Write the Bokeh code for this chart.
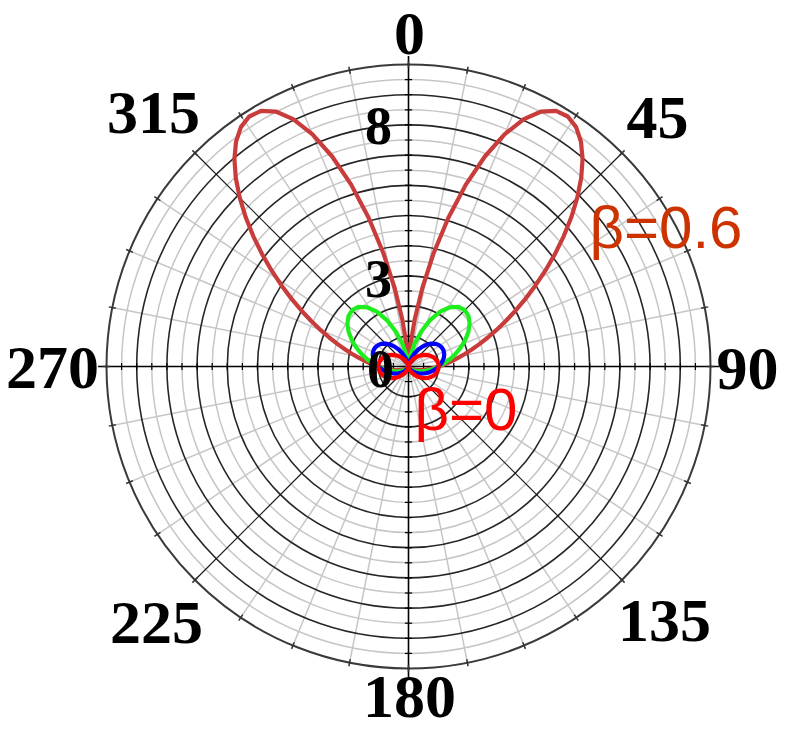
import numpy as np
from bokeh.plotting import figure
from bokeh.models import Range1d
from bokeh.core.properties import value
from bokeh.embed import file_html
from bokeh.resources import INLINE

# ---------------- data ----------------
# polar angle in degrees (0 = up, clockwise), pattern is mirror-symmetric about 0
theta_b06 = [0, 2.5, 5, 7.5, 10, 12.5, 15, 17.5, 20, 22.5, 25, 27.5, 30, 32.5, 35,
             37.5, 40, 42.5, 45, 47.5, 50, 52.5, 55, 57.5, 60, 62.5, 65, 67.5, 70,
             72.5, 75, 77.5, 80, 82.5, 85, 87.5, 90, 95, 100, 105, 110, 115, 120,
             125, 130, 135, 140, 145, 150, 155, 160, 165, 170, 175, 180]
r_b06 = [0, 0.184, 0.721, 1.561, 2.631, 3.841, 5.099, 6.315, 7.409, 8.329, 9.038,
         9.518, 9.773, 9.816, 9.676, 9.382, 8.967, 8.465, 7.904, 7.311, 6.707,
         6.109, 5.530, 4.979, 4.462, 3.984, 3.545, 3.145, 2.784, 2.460, 2.169,
         1.911, 1.681, 1.478, 1.298, 1.140, 1.0, 0.769, 0.591, 0.453, 0.347,
         0.265, 0.202, 0.153, 0.115, 0.085, 0.062, 0.045, 0.031, 0.020, 0.0125,
         0.0068, 0.0030, 0.0007, 0]

theta_deg = [0, 5, 10, 15, 20, 25, 30, 35, 40, 45, 50, 55, 60, 65, 70, 75, 80, 85,
             90, 95, 100, 105, 110, 115, 120, 125, 130, 135, 140, 145, 150, 155,
             160, 165, 170, 175, 180]
r_b04 = [0, 0.097, 0.369, 0.770, 1.235, 1.697, 2.096, 2.395, 2.574, 2.636, 2.594,
         2.470, 2.289, 2.073, 1.843, 1.611, 1.390, 1.185, 1.0, 0.836, 0.693, 0.570,
         0.465, 0.376, 0.301, 0.239, 0.187, 0.144, 0.109, 0.080, 0.056, 0.038,
         0.024, 0.013, 0.006, 0.001, 0]
r_b02 = [0, 0.023, 0.090, 0.196, 0.331, 0.486, 0.647, 0.805, 0.949, 1.072, 1.168,
         1.234, 1.270, 1.277, 1.258, 1.217, 1.157, 1.084, 1.0, 0.910, 0.818, 0.725,
         0.634, 0.547, 0.466, 0.390, 0.321, 0.258, 0.203, 0.154, 0.112, 0.078,
         0.049, 0.028, 0.012, 0.003, 0]
r_b00 = [0, 0.008, 0.030, 0.067, 0.117, 0.179, 0.250, 0.329, 0.413, 0.500, 0.587,
         0.671, 0.750, 0.821, 0.883, 0.933, 0.970, 0.992, 1.0, 0.992, 0.970, 0.933,
         0.883, 0.821, 0.750, 0.671, 0.587, 0.500, 0.413, 0.329, 0.250, 0.179,
         0.117, 0.067, 0.030, 0.008, 0]

angle_ticks = [0, 45, 90, 135, 180, 225, 270, 315]
angle_labels = ["0", "45", "90", "135", "180", "225", "270", "315"]
radial_ticks = [0, 3, 8]
radial_labels = ["0", "3", "8"]
r_max = 10
ring_major = [1, 2, 3, 4, 5, 6, 7, 8, 9]
ring_minor = [0.5, 1.5, 2.5, 3.5, 4.5, 5.5, 6.5, 7.5, 8.5, 9.5]
spoke_step = 11.25

series_labels = ["\u03b2=0.6", "\u03b2=0"]

# ---------------- layout / style ----------------
S = 30.2            # px per radial unit
W, H = 780, 730
CX, CY = 408, 366   # canvas px of the pole (page has an 8px margin)


def d(px, py):
    return (px - CX) / S, (CY - py) / S


p = figure(width=W, height=H,
           x_range=Range1d(-CX / S, (W - CX) / S),
           y_range=Range1d(-(H - CY) / S, CY / S),
           output_backend="svg", toolbar_location=None, min_border=0,
           x_axis_type=None, y_axis_type=None)
p.grid.visible = False
p.outline_line_color = None
p.background_fill_color = "white"
p.border_fill_color = "white"


def pol(r, a_deg):
    a = np.radians(np.asarray(a_deg, dtype=float))
    r = np.asarray(r, dtype=float)
    return r * np.sin(a), r * np.cos(a)


# minor rings and spokes (gray)
p.circle(x=[0] * len(ring_minor), y=[0] * len(ring_minor), radius=ring_minor,
         fill_color=None, line_color="#c6c6c6", line_width=1.5)
spokes = [k * spoke_step for k in range(int(360 / spoke_step)) if (k * spoke_step) % 45 != 0]
sx, sy = pol([r_max] * len(spokes), spokes)
p.segment(x0=[0] * len(spokes), y0=[0] * len(spokes), x1=sx, y1=sy,
          line_color="#c6c6c6", line_width=1.5)

# major rings (black)
p.circle(x=[0] * len(ring_major), y=[0] * len(ring_major), radius=ring_major,
         fill_color=None, line_color="#262626", line_width=1.6)
p.circle(x=[0], y=[0], radius=[r_max], fill_color=None, line_color="#3a3a3a", line_width=2)

# diagonal spokes
diag = [45, 135, 225, 315]
dx, dy = pol([r_max] * 4, diag)
p.segment(x0=[0] * 4, y0=[0] * 4, x1=dx, y1=dy, line_color="#1a1a1a", line_width=1.2)

# main axes
ext = r_max + 0.28
p.segment(x0=[0, -ext], y0=[-ext, 0], x1=[0, ext], y1=[ext, 0],
          line_color="black", line_width=1.6)

# outer-circle ticks
all_sp = [k * spoke_step for k in range(int(360 / spoke_step))]
t0x, t0y = pol([r_max - 0.12] * len(all_sp), all_sp)
t1x, t1y = pol([r_max + 0.12] * len(all_sp), all_sp)
p.segment(x0=t0x, y0=t0y, x1=t1x, y1=t1y, line_color="#333333", line_width=1.5)

# small ticks on the axes
tk = ring_minor + ring_major
h = 0.12
xs0, ys0, xs1, ys1 = [], [], [], []
for v in tk:
    for s in (1, -1):
        xs0 += [-h, s * v]; ys0 += [s * v, -h]
        xs1 += [h, s * v];  ys1 += [s * v, h]
p.segment(x0=xs0, y0=ys0, x1=xs1, y1=ys1, line_color="black", line_width=1.2)


# ---------------- curves ----------------
def full(theta, r):
    th = np.asarray(theta, dtype=float)
    rr = np.asarray(r, dtype=float)
    th_f = np.concatenate([-th[::-1], th[1:]])
    r_f = np.concatenate([rr[::-1], rr[1:]])
    return pol(r_f, th_f)


for th, rr, col in [(theta_b06, r_b06, "#c93c3c"),
                    (theta_deg, r_b04, "#1eee1e"),
                    (theta_deg, r_b02, "#0000ff"),
                    (theta_deg, r_b00, "#ff0000")]:
    x, y = full(th, rr)
    p.line(x, y, line_color=col, line_width=4.2, line_join="round", line_cap="round")

# ---------------- labels ----------------
ang_pos = [(409, 33), (657, 117), (747, 368), (664, 620),
           (409, 696), (156, 622), (52, 367), (153, 112)]
ax_, ay_ = zip(*[d(*q) for q in ang_pos])
p.text(x=list(ax_), y=list(ay_), text=angle_labels,
       text_font=value("Liberation Serif"), text_font_style="bold",
       text_font_size="62px", text_align="center", text_baseline="alphabetic",
       text_color="black")

rad_pos = [(380, 368), (378, 278), (378, 125)]
rx_, ry_ = zip(*[d(*q) for q in rad_pos])
p.text(x=list(rx_), y=list(ry_), text=radial_labels,
       text_font=value("Liberation Serif"), text_font_style="bold",
       text_font_size="54px", text_align="center", text_baseline="alphabetic",
       text_color="black")

lab_pos = [(589, 227), (414, 409)]
lx_, ly_ = zip(*[d(*q) for q in lab_pos])
p.text(x=list(lx_), y=list(ly_), text=series_labels,
       text_font=value("Liberation Sans"), text_font_size="60px",
       text_align="left", text_baseline="alphabetic",
       text_color=["#cc3300", "#ff0000"])

open("out.html", "w").write(file_html(p, INLINE, "polar"))
